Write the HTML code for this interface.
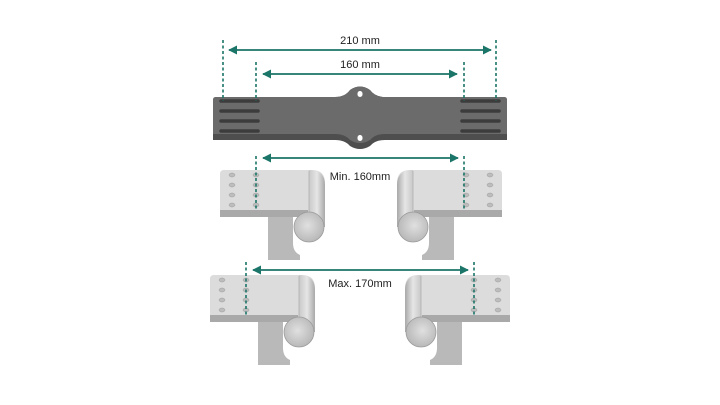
<!DOCTYPE html>
<html><head><style>html,body{margin:0;padding:0;background:#fff}svg{display:block}</style></head>
<body>
<svg width="720" height="405" viewBox="0 0 720 405" xmlns="http://www.w3.org/2000/svg" font-family="Liberation Sans, sans-serif">
<defs>
<marker id="a" viewBox="0 0 10 10" refX="9" refY="5" markerWidth="5" markerHeight="5" orient="auto-start-reverse"><path d="M0,0L10,5L0,10z" fill="#1b7568"/></marker>
<linearGradient id="cyl" x1="0" x2="1"><stop offset="0" stop-color="#c8c8c8"/><stop offset=".5" stop-color="#e6e6e6"/><stop offset="1" stop-color="#a9a9a9"/></linearGradient>
<radialGradient id="end" cx=".45" cy=".45" r=".6"><stop offset="0" stop-color="#e0e0e0"/><stop offset="1" stop-color="#b5b5b5"/></radialGradient>
<g id="br">
<path d="M268,212 L293,212 L293,243 Q293,252 300,255 L300,260 L268,260 Z" fill="#b9b9b9"/>
<path d="M220,174 Q220,170 224,170 L312,170 Q325,170 325,183 L325,212 L220,212 Z" fill="#dcdcdc"/>
<rect x="220" y="210" width="88" height="7" fill="#a9a9a9"/>
<path d="M309,170 Q325,170 325,185 L325,227 L309,227 Z" fill="url(#cyl)"/>
<line x1="309" y1="171" x2="309" y2="212" stroke="#b0b0b0" stroke-width="0.8"/>
<circle cx="309" cy="227" r="15" fill="url(#end)" stroke="#9a9a9a" stroke-width="0.8"/>
<g fill="#bdbdbd" stroke="#9c9c9c" stroke-width="0.5">
<ellipse cx="232" cy="175" rx="3" ry="2"/><ellipse cx="232" cy="185" rx="3" ry="2"/><ellipse cx="232" cy="195" rx="3" ry="2"/><ellipse cx="232" cy="205" rx="3" ry="2"/>
<ellipse cx="256" cy="175" rx="3" ry="2"/><ellipse cx="256" cy="185" rx="3" ry="2"/><ellipse cx="256" cy="195" rx="3" ry="2"/><ellipse cx="256" cy="205" rx="3" ry="2"/>
</g>
</g>
</defs>

<!-- top plate -->
<path d="M213,100 Q213,97 216,97 L335,97 Q345,97 350,90 Q360,83 370,90 Q375,97 385,97 L504,97 Q507,97 507,100 L507,140 L385,140 Q375,140 370,146 Q360,152 350,146 Q345,140 335,140 L213,140 Z" fill="#4e4e4e"/>
<path d="M213,100 Q213,97 216,97 L335,97 Q345,97 350,90 Q360,83 370,90 Q375,97 385,97 L504,97 Q507,97 507,100 L507,134 L385,134 Q375,134 370,140 Q360,146 350,140 Q345,134 335,134 L213,134 Z" fill="#6b6b6b"/>
<g stroke="#3c3c3c" stroke-width="3.5" stroke-linecap="round">
<line x1="221" y1="101" x2="258" y2="101"/><line x1="221" y1="111" x2="258" y2="111"/><line x1="221" y1="121" x2="258" y2="121"/><line x1="221" y1="131" x2="258" y2="131"/>
<line x1="462" y1="101" x2="499" y2="101"/><line x1="462" y1="111" x2="499" y2="111"/><line x1="462" y1="121" x2="499" y2="121"/><line x1="462" y1="131" x2="499" y2="131"/>
</g>
<rect x="357.5" y="91" width="5" height="6" rx="2.5" fill="#fff"/>
<rect x="357.5" y="135" width="5" height="6" rx="2.5" fill="#fff"/>

<!-- brackets -->
<use href="#br"/>
<use href="#br" transform="translate(722,0) scale(-1,1)"/>
<use href="#br" transform="translate(-10,105)"/>
<use href="#br" transform="translate(730,105) scale(-1,1)"/>

<!-- dimension lines -->
<g stroke="#1b7568" stroke-width="1.6" stroke-dasharray="3,2.5">
<line x1="223" y1="40" x2="223" y2="101"/><line x1="256" y1="62" x2="256" y2="101"/>
<line x1="464" y1="62" x2="464" y2="101"/><line x1="496" y1="40" x2="496" y2="101"/>
<line x1="256" y1="156" x2="256" y2="210"/><line x1="464" y1="156" x2="464" y2="210"/>
<line x1="246" y1="262" x2="246" y2="316"/><line x1="474" y1="262" x2="474" y2="316"/>
</g>
<g stroke="#1b7568" stroke-width="1.8" marker-start="url(#a)" marker-end="url(#a)">
<line x1="229" y1="50" x2="491" y2="50"/>
<line x1="263" y1="74" x2="457" y2="74"/>
<line x1="263" y1="158" x2="458" y2="158"/>
<line x1="253" y1="270" x2="468" y2="270"/>
</g>
<g font-size="11" fill="#222" text-anchor="middle">
<text x="360" y="44">210 mm</text>
<text x="360" y="68">160 mm</text>
<text x="360" y="180">Min. 160mm</text>
<text x="360" y="287">Max. 170mm</text>
</g>
</svg>
</body></html>
